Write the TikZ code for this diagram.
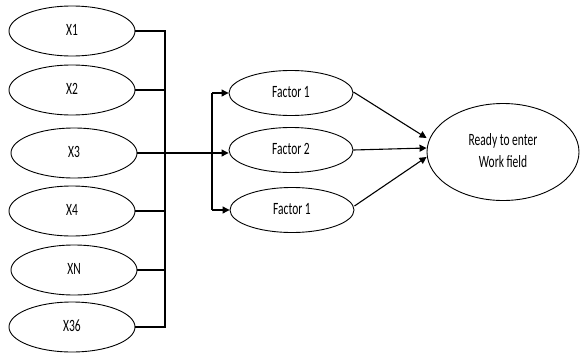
\documentclass[tikz,border=0pt]{standalone}
\usepackage{fontspec}
\setmainfont{Carlito}
\usetikzlibrary{shapes.geometric,arrows.meta,calc}
\newcommand{\tallt}[1]{\scalebox{1}[1.5]{\fontsize{11.5}{15}\selectfont\begin{tabular}{@{}c@{}}#1\end{tabular}}}
\begin{document}
\begin{tikzpicture}[x=1pt,y=-1pt,
  ell/.style={draw, ellipse, line width=0.9pt, inner sep=0pt, minimum width=126pt, minimum height=50pt},
  fac/.style={ell, minimum width=124pt, minimum height=45pt},
  conn/.style={line width=1.1pt},
  arr/.style={conn, -{Triangle[length=7pt,width=7pt]}}]
\useasboundingbox (0,0) rectangle (580,356);
\node[ell] (x1) at (72,31) {\tallt{X1}};
\node[ell] (x2) at (72,90) {\tallt{X2}};
\node[ell] (x3) at (74,153) {\tallt{X3}};
\node[ell] (x4) at (72,211) {\tallt{X4}};
\node[ell] (xn) at (74,270) {\tallt{XN}};
\node[ell] (x36) at (72,327) {\tallt{X36}};
\node[fac] (f1) at (291,93) {\tallt{Factor 1}};
\node[fac] (f2) at (291,150) {\tallt{Factor 2}};
\node[fac] (f3) at (292,210) {\tallt{Factor 1}};
\node[draw, ellipse, line width=0.9pt, inner sep=0pt, minimum width=152pt, minimum height=97pt] (r) at (503,152) {\tallt{Ready to enter\\Work field}};
\coordinate (bt) at (165,31);
\coordinate (bb) at (165,327);
\coordinate (ct) at (212,93);
\coordinate (cb) at (212,210);
% left bus
\draw[conn] (x1.east) -- (bt) -- (bb) -- (x36.east);
\draw[conn] (x2.east) -- (x2.east -| bt);
\draw[conn] (x4.east) -- (x4.east -| bt);
\draw[conn] (xn.east) -- (xn.east -| bt);
\draw[arr] (x3.east) -- (x3.east -| f2.west);
% second bus
\draw[conn] (ct) -- (cb);
\draw[arr] (ct) -- (f1.west);
\draw[arr] (cb) -- (f3.west);
% to ready
\coordinate (r1) at ($(r.west)+(0,-14)$);
\coordinate (r2) at ($(r.west)+(0,-4)$);
\coordinate (r3) at ($(r.west)+(0,5)$);
\draw[arr] ($(f1.east)+(0,-1)$) -- (r1);
\draw[arr] (f2.east) -- (r2);
\draw[arr] ($(f3.east)+(0,-4)$) -- (r3);
\end{tikzpicture}
\end{document}
